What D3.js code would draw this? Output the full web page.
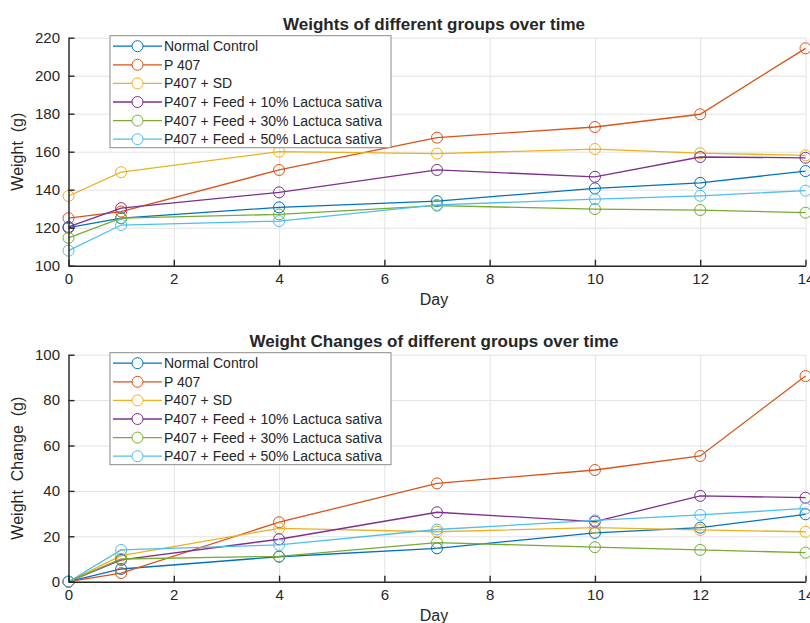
<!DOCTYPE html>
<html>
<head>
<meta charset="utf-8">
<script src="https://cdn.jsdelivr.net/npm/d3@7"></script>
<style>
  body { margin: 0; background: #fff; }
  text { font-family: "Liberation Sans", Arial, sans-serif; fill: #262626; }
</style>
</head>
<body>
<div id="chart"></div>
<script>
// data
var days = [0, 1, 4, 7, 10, 12, 14];
var groupNames = ["Normal Control", "P 407", "P407 + SD",
    "P407 + Feed + 10% Lactuca sativa", "P407 + Feed + 30% Lactuca sativa", "P407 + Feed + 50% Lactuca sativa"];

var wNormal = [120, 125, 130.7, 134, 140.7, 143.6, 149.8];
var wP407   = [125, 128.5, 150.4, 167.4, 173, 179.7, 214.4];
var wSD     = [136.7, 149.2, 160, 159, 161.4, 159.2, 158.1];
var wFeed10 = [120.4, 130.3, 138.6, 150.4, 146.8, 157.2, 156.8];
var wFeed30 = [114.7, 125, 127, 131.6, 129.8, 129.3, 127.9];
var wFeed50 = [107.9, 121.4, 123.5, 132, 135, 136.8, 139.5];

var cNormal = [0, 5.6, 11, 14.7, 21.5, 23.8, 29.7];
var cP407   = [0, 3.8, 26.2, 43.3, 49.2, 55.4, 90.6];
var cSD     = [0, 11.5, 23.5, 22, 23.8, 22.8, 22];
var cFeed10 = [0, 9.6, 18.7, 30.6, 26.5, 37.8, 37];
var cFeed30 = [0, 10, 11.2, 17.2, 15.2, 14, 12.8];
var cFeed50 = [0, 14, 16.2, 23, 27, 29.4, 32.3];

var dayTicks = [0, 2, 4, 6, 8, 10, 12, 14];
var weightTicks = [100, 120, 140, 160, 180, 200, 220];
var changeTicks = [0, 20, 40, 60, 80, 100];

var colors = ["#0072BD", "#D95319", "#EDB120", "#7E2F8E", "#77AC30", "#4DBEEE"];

var svg = d3.select("#chart").append("svg")
    .attr("width", 810)
    .attr("height", 623);

var x = d3.scaleLinear().domain([0, 14]).range([68.5, 805.5]);

function drawPanel(p) {
    var y = d3.scaleLinear().domain(p.domain).range([p.bottom, p.top]);
    var g = svg.append("g");

    // grid
    g.append("g")
        .attr("transform", "translate(0," + p.bottom + ")")
        .call(d3.axisBottom(x).tickValues(dayTicks).tickSize(-(p.bottom - p.top)).tickFormat(""))
        .call(function(s) { s.select(".domain").remove(); s.selectAll("line").attr("stroke", "#e3e3e3"); });
    g.append("g")
        .attr("transform", "translate(68.5,0)")
        .call(d3.axisLeft(y).tickValues(p.ticks).tickSize(-(805.5 - 68.5)).tickFormat(""))
        .call(function(s) { s.select(".domain").remove(); s.selectAll("line").attr("stroke", "#e3e3e3"); });

    // lines + markers
    var line = d3.line().x(function(d, i) { return x(days[i]); }).y(function(d) { return y(d); });
    p.series.forEach(function(vals, k) {
        g.append("path")
            .attr("d", line(vals))
            .attr("fill", "none")
            .attr("stroke", colors[k])
            .attr("stroke-width", 1.3);
        g.selectAll(null).data(vals).enter().append("circle")
            .attr("cx", function(d, i) { return x(days[i]); })
            .attr("cy", function(d) { return y(d); })
            .attr("r", 5.5)
            .attr("fill", "none")
            .attr("stroke", colors[k])
            .attr("stroke-width", 1);
    });

    // axes
    var ax = g.append("g")
        .attr("transform", "translate(0," + p.bottom + ")")
        .call(d3.axisBottom(x).tickValues(dayTicks).tickSizeInner(-6).tickSizeOuter(0).tickPadding(7.5));
    var ay = g.append("g")
        .attr("transform", "translate(68.5,0)")
        .call(d3.axisLeft(y).tickValues(p.ticks).tickSizeInner(-6).tickSizeOuter(0).tickPadding(8.5));
    [ax, ay].forEach(function(a) {
        a.select(".domain").attr("stroke", "#262626").attr("stroke-width", 1.4);
        a.selectAll(".tick line").attr("stroke", "#262626").attr("stroke-width", 1.4);
        a.selectAll("text").attr("font-size", 15).attr("fill", "#262626")
            .attr("font-family", "Liberation Sans, Arial, sans-serif");
    });

    // titles
    g.append("text")
        .attr("x", 434).attr("y", p.top - 8)
        .attr("text-anchor", "middle")
        .attr("font-size", 17).attr("font-weight", "bold")
        .attr("fill", "#111")
        .text(p.title);
    g.append("text")
        .attr("x", 434).attr("y", p.bottom + 39)
        .attr("text-anchor", "middle")
        .attr("font-size", 16)
        .text("Day");
    g.append("text")
        .attr("transform", "translate(23," + ((p.top + p.bottom) / 2) + ") rotate(-90)")
        .attr("text-anchor", "middle")
        .attr("font-size", 16)
        .attr("xml:space", "preserve")
        .style("white-space", "pre")
        .text(p.ylabel);

    // legend
    var lg = g.append("g");
    lg.append("rect")
        .attr("x", 110).attr("y", p.top - 2)
        .attr("width", 281).attr("height", 112)
        .attr("fill", "#fff")
        .attr("stroke", "#8a8a8a")
        .attr("stroke-width", 1);
    groupNames.forEach(function(name, k) {
        var ry = p.top + 8.5 + k * 18.6;
        lg.append("line")
            .attr("x1", 113).attr("x2", 162)
            .attr("y1", ry).attr("y2", ry)
            .attr("stroke", colors[k]).attr("stroke-width", 1.3);
        lg.append("circle")
            .attr("cx", 137.5).attr("cy", ry).attr("r", 5.5)
            .attr("fill", "#fff").attr("stroke", colors[k]).attr("stroke-width", 1);
        lg.append("text")
            .attr("x", 164).attr("y", ry + 5)
            .attr("font-size", 14)
            .text(name);
    });
}

drawPanel({
    top: 37.7, bottom: 265.7, domain: [100, 220], ticks: weightTicks,
    series: [wNormal, wP407, wSD, wFeed10, wFeed30, wFeed50],
    title: "Weights of different groups over time",
    ylabel: "Weight  (g)"
});
drawPanel({
    top: 354.7, bottom: 581.7, domain: [0, 100], ticks: changeTicks,
    series: [cNormal, cP407, cSD, cFeed10, cFeed30, cFeed50],
    title: "Weight Changes of different groups over time",
    ylabel: "Weight  Change  (g)"
});
</script>
</body>
</html>
